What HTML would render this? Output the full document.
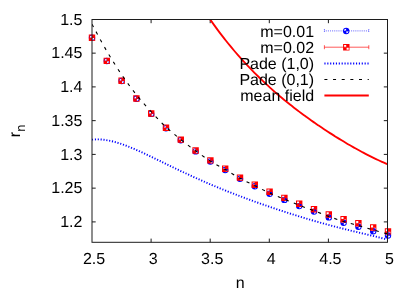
<!DOCTYPE html>
<html><head><meta charset="utf-8"><style>
html,body{margin:0;padding:0;background:#fff;}
svg{display:block;will-change:transform;}
text{font-family:"Liberation Sans",sans-serif;font-size:16px;fill:#000;text-rendering:geometricPrecision;}
</style></head><body>
<svg width="415" height="291" viewBox="0 0 415 291">
<rect width="415" height="291" fill="#fff"/>

<path d="M151.10 242.30 v-3.7 M151.10 19.50 v3.7 M210.20 242.30 v-3.7 M210.20 19.50 v3.7 M269.30 242.30 v-3.7 M269.30 19.50 v3.7 M328.40 242.30 v-3.7 M328.40 19.50 v3.7 M92.00 221.90 h3.7 M387.50 221.90 h-3.7 M92.00 188.15 h3.7 M387.50 188.15 h-3.7 M92.00 154.40 h3.7 M387.50 154.40 h-3.7 M92.00 120.65 h3.7 M387.50 120.65 h-3.7 M92.00 86.90 h3.7 M387.50 86.90 h-3.7 M92.00 53.15 h3.7 M387.50 53.15 h-3.7" stroke="#000" stroke-width="0.9" fill="none"/>
<text x="94.00" y="264" text-anchor="middle">2.5</text>
<text x="153.10" y="264" text-anchor="middle">3</text>
<text x="212.20" y="264" text-anchor="middle">3.5</text>
<text x="271.30" y="264" text-anchor="middle">4</text>
<text x="330.40" y="264" text-anchor="middle">4.5</text>
<text x="389.50" y="264" text-anchor="middle">5</text>
<text x="82.4" y="227.15" text-anchor="end">1.2</text>
<text x="82.4" y="193.40" text-anchor="end">1.25</text>
<text x="82.4" y="159.65" text-anchor="end">1.3</text>
<text x="82.4" y="125.90" text-anchor="end">1.35</text>
<text x="82.4" y="92.15" text-anchor="end">1.4</text>
<text x="82.4" y="58.40" text-anchor="end">1.45</text>
<text x="82.4" y="24.65" text-anchor="end">1.5</text>
<text x="240.2" y="288.4" text-anchor="middle">n</text>
<text transform="translate(20,137.2) rotate(-90)">r<tspan dy="5.2" font-size="12.8px">n</tspan></text>
<clipPath id="c"><rect x="92.00" y="19.50" width="295.50" height="222.80"/></clipPath>
<path transform="translate(92.00,37.80)" fill-rule="evenodd" fill="#0000ff" d="M-3.2 0 A3.2 3.2 0 1 0 3.2 0 A3.2 3.2 0 1 0 -3.2 0 Z M-0.1 -0.1 L-2.3 -0.1 A2.3 2.3 0 0 1 -0.1 -2.3 Z M0.2 0.2 L2.3 0.2 A2.3 2.3 0 0 1 0.2 2.3 Z"/>
<path transform="translate(106.80,60.95)" fill-rule="evenodd" fill="#0000ff" d="M-3.2 0 A3.2 3.2 0 1 0 3.2 0 A3.2 3.2 0 1 0 -3.2 0 Z M-0.1 -0.1 L-2.3 -0.1 A2.3 2.3 0 0 1 -0.1 -2.3 Z M0.2 0.2 L2.3 0.2 A2.3 2.3 0 0 1 0.2 2.3 Z"/>
<path transform="translate(121.60,80.94)" fill-rule="evenodd" fill="#0000ff" d="M-3.2 0 A3.2 3.2 0 1 0 3.2 0 A3.2 3.2 0 1 0 -3.2 0 Z M-0.1 -0.1 L-2.3 -0.1 A2.3 2.3 0 0 1 -0.1 -2.3 Z M0.2 0.2 L2.3 0.2 A2.3 2.3 0 0 1 0.2 2.3 Z"/>
<path transform="translate(136.40,98.75)" fill-rule="evenodd" fill="#0000ff" d="M-3.2 0 A3.2 3.2 0 1 0 3.2 0 A3.2 3.2 0 1 0 -3.2 0 Z M-0.1 -0.1 L-2.3 -0.1 A2.3 2.3 0 0 1 -0.1 -2.3 Z M0.2 0.2 L2.3 0.2 A2.3 2.3 0 0 1 0.2 2.3 Z"/>
<path transform="translate(151.20,113.88)" fill-rule="evenodd" fill="#0000ff" d="M-3.2 0 A3.2 3.2 0 1 0 3.2 0 A3.2 3.2 0 1 0 -3.2 0 Z M-0.1 -0.1 L-2.3 -0.1 A2.3 2.3 0 0 1 -0.1 -2.3 Z M0.2 0.2 L2.3 0.2 A2.3 2.3 0 0 1 0.2 2.3 Z"/>
<path transform="translate(166.00,128.24)" fill-rule="evenodd" fill="#0000ff" d="M-3.2 0 A3.2 3.2 0 1 0 3.2 0 A3.2 3.2 0 1 0 -3.2 0 Z M-0.1 -0.1 L-2.3 -0.1 A2.3 2.3 0 0 1 -0.1 -2.3 Z M0.2 0.2 L2.3 0.2 A2.3 2.3 0 0 1 0.2 2.3 Z"/>
<path transform="translate(180.80,140.31)" fill-rule="evenodd" fill="#0000ff" d="M-3.2 0 A3.2 3.2 0 1 0 3.2 0 A3.2 3.2 0 1 0 -3.2 0 Z M-0.1 -0.1 L-2.3 -0.1 A2.3 2.3 0 0 1 -0.1 -2.3 Z M0.2 0.2 L2.3 0.2 A2.3 2.3 0 0 1 0.2 2.3 Z"/>
<path transform="translate(195.60,151.39)" fill-rule="evenodd" fill="#0000ff" d="M-3.2 0 A3.2 3.2 0 1 0 3.2 0 A3.2 3.2 0 1 0 -3.2 0 Z M-0.1 -0.1 L-2.3 -0.1 A2.3 2.3 0 0 1 -0.1 -2.3 Z M0.2 0.2 L2.3 0.2 A2.3 2.3 0 0 1 0.2 2.3 Z"/>
<path transform="translate(210.40,161.49)" fill-rule="evenodd" fill="#0000ff" d="M-3.2 0 A3.2 3.2 0 1 0 3.2 0 A3.2 3.2 0 1 0 -3.2 0 Z M-0.1 -0.1 L-2.3 -0.1 A2.3 2.3 0 0 1 -0.1 -2.3 Z M0.2 0.2 L2.3 0.2 A2.3 2.3 0 0 1 0.2 2.3 Z"/>
<path transform="translate(225.20,170.00)" fill-rule="evenodd" fill="#0000ff" d="M-3.2 0 A3.2 3.2 0 1 0 3.2 0 A3.2 3.2 0 1 0 -3.2 0 Z M-0.1 -0.1 L-2.3 -0.1 A2.3 2.3 0 0 1 -0.1 -2.3 Z M0.2 0.2 L2.3 0.2 A2.3 2.3 0 0 1 0.2 2.3 Z"/>
<path transform="translate(240.00,178.70)" fill-rule="evenodd" fill="#0000ff" d="M-3.2 0 A3.2 3.2 0 1 0 3.2 0 A3.2 3.2 0 1 0 -3.2 0 Z M-0.1 -0.1 L-2.3 -0.1 A2.3 2.3 0 0 1 -0.1 -2.3 Z M0.2 0.2 L2.3 0.2 A2.3 2.3 0 0 1 0.2 2.3 Z"/>
<path transform="translate(254.80,186.30)" fill-rule="evenodd" fill="#0000ff" d="M-3.2 0 A3.2 3.2 0 1 0 3.2 0 A3.2 3.2 0 1 0 -3.2 0 Z M-0.1 -0.1 L-2.3 -0.1 A2.3 2.3 0 0 1 -0.1 -2.3 Z M0.2 0.2 L2.3 0.2 A2.3 2.3 0 0 1 0.2 2.3 Z"/>
<path transform="translate(269.60,193.70)" fill-rule="evenodd" fill="#0000ff" d="M-3.2 0 A3.2 3.2 0 1 0 3.2 0 A3.2 3.2 0 1 0 -3.2 0 Z M-0.1 -0.1 L-2.3 -0.1 A2.3 2.3 0 0 1 -0.1 -2.3 Z M0.2 0.2 L2.3 0.2 A2.3 2.3 0 0 1 0.2 2.3 Z"/>
<path transform="translate(284.40,199.90)" fill-rule="evenodd" fill="#0000ff" d="M-3.2 0 A3.2 3.2 0 1 0 3.2 0 A3.2 3.2 0 1 0 -3.2 0 Z M-0.1 -0.1 L-2.3 -0.1 A2.3 2.3 0 0 1 -0.1 -2.3 Z M0.2 0.2 L2.3 0.2 A2.3 2.3 0 0 1 0.2 2.3 Z"/>
<path transform="translate(299.20,206.10)" fill-rule="evenodd" fill="#0000ff" d="M-3.2 0 A3.2 3.2 0 1 0 3.2 0 A3.2 3.2 0 1 0 -3.2 0 Z M-0.1 -0.1 L-2.3 -0.1 A2.3 2.3 0 0 1 -0.1 -2.3 Z M0.2 0.2 L2.3 0.2 A2.3 2.3 0 0 1 0.2 2.3 Z"/>
<path transform="translate(314.00,211.60)" fill-rule="evenodd" fill="#0000ff" d="M-3.2 0 A3.2 3.2 0 1 0 3.2 0 A3.2 3.2 0 1 0 -3.2 0 Z M-0.1 -0.1 L-2.3 -0.1 A2.3 2.3 0 0 1 -0.1 -2.3 Z M0.2 0.2 L2.3 0.2 A2.3 2.3 0 0 1 0.2 2.3 Z"/>
<path transform="translate(328.80,217.40)" fill-rule="evenodd" fill="#0000ff" d="M-3.2 0 A3.2 3.2 0 1 0 3.2 0 A3.2 3.2 0 1 0 -3.2 0 Z M-0.1 -0.1 L-2.3 -0.1 A2.3 2.3 0 0 1 -0.1 -2.3 Z M0.2 0.2 L2.3 0.2 A2.3 2.3 0 0 1 0.2 2.3 Z"/>
<path transform="translate(343.60,222.80)" fill-rule="evenodd" fill="#0000ff" d="M-3.2 0 A3.2 3.2 0 1 0 3.2 0 A3.2 3.2 0 1 0 -3.2 0 Z M-0.1 -0.1 L-2.3 -0.1 A2.3 2.3 0 0 1 -0.1 -2.3 Z M0.2 0.2 L2.3 0.2 A2.3 2.3 0 0 1 0.2 2.3 Z"/>
<path transform="translate(358.40,226.80)" fill-rule="evenodd" fill="#0000ff" d="M-3.2 0 A3.2 3.2 0 1 0 3.2 0 A3.2 3.2 0 1 0 -3.2 0 Z M-0.1 -0.1 L-2.3 -0.1 A2.3 2.3 0 0 1 -0.1 -2.3 Z M0.2 0.2 L2.3 0.2 A2.3 2.3 0 0 1 0.2 2.3 Z"/>
<path transform="translate(373.20,231.20)" fill-rule="evenodd" fill="#0000ff" d="M-3.2 0 A3.2 3.2 0 1 0 3.2 0 A3.2 3.2 0 1 0 -3.2 0 Z M-0.1 -0.1 L-2.3 -0.1 A2.3 2.3 0 0 1 -0.1 -2.3 Z M0.2 0.2 L2.3 0.2 A2.3 2.3 0 0 1 0.2 2.3 Z"/>
<path transform="translate(388.00,235.50)" fill-rule="evenodd" fill="#0000ff" d="M-3.2 0 A3.2 3.2 0 1 0 3.2 0 A3.2 3.2 0 1 0 -3.2 0 Z M-0.1 -0.1 L-2.3 -0.1 A2.3 2.3 0 0 1 -0.1 -2.3 Z M0.2 0.2 L2.3 0.2 A2.3 2.3 0 0 1 0.2 2.3 Z"/>
<path transform="translate(92.00,37.80)" fill-rule="evenodd" fill="#ff0000" d="M-3.2 -3.2 H3.2 V3.2 H-3.2 Z M-2.2 -2.2 H-0.1 V-0.1 H-2.2 Z M0.3 0.3 H2.4 V2.4 H0.3 Z"/>
<path transform="translate(106.80,60.90)" fill-rule="evenodd" fill="#ff0000" d="M-3.2 -3.2 H3.2 V3.2 H-3.2 Z M-2.2 -2.2 H-0.1 V-0.1 H-2.2 Z M0.3 0.3 H2.4 V2.4 H0.3 Z"/>
<path transform="translate(121.60,80.80)" fill-rule="evenodd" fill="#ff0000" d="M-3.2 -3.2 H3.2 V3.2 H-3.2 Z M-2.2 -2.2 H-0.1 V-0.1 H-2.2 Z M0.3 0.3 H2.4 V2.4 H0.3 Z"/>
<path transform="translate(136.40,98.50)" fill-rule="evenodd" fill="#ff0000" d="M-3.2 -3.2 H3.2 V3.2 H-3.2 Z M-2.2 -2.2 H-0.1 V-0.1 H-2.2 Z M0.3 0.3 H2.4 V2.4 H0.3 Z"/>
<path transform="translate(151.20,113.50)" fill-rule="evenodd" fill="#ff0000" d="M-3.2 -3.2 H3.2 V3.2 H-3.2 Z M-2.2 -2.2 H-0.1 V-0.1 H-2.2 Z M0.3 0.3 H2.4 V2.4 H0.3 Z"/>
<path transform="translate(166.00,127.70)" fill-rule="evenodd" fill="#ff0000" d="M-3.2 -3.2 H3.2 V3.2 H-3.2 Z M-2.2 -2.2 H-0.1 V-0.1 H-2.2 Z M0.3 0.3 H2.4 V2.4 H0.3 Z"/>
<path transform="translate(180.80,139.60)" fill-rule="evenodd" fill="#ff0000" d="M-3.2 -3.2 H3.2 V3.2 H-3.2 Z M-2.2 -2.2 H-0.1 V-0.1 H-2.2 Z M0.3 0.3 H2.4 V2.4 H0.3 Z"/>
<path transform="translate(195.60,150.50)" fill-rule="evenodd" fill="#ff0000" d="M-3.2 -3.2 H3.2 V3.2 H-3.2 Z M-2.2 -2.2 H-0.1 V-0.1 H-2.2 Z M0.3 0.3 H2.4 V2.4 H0.3 Z"/>
<path transform="translate(210.40,160.40)" fill-rule="evenodd" fill="#ff0000" d="M-3.2 -3.2 H3.2 V3.2 H-3.2 Z M-2.2 -2.2 H-0.1 V-0.1 H-2.2 Z M0.3 0.3 H2.4 V2.4 H0.3 Z"/>
<path transform="translate(225.20,168.80)" fill-rule="evenodd" fill="#ff0000" d="M-3.2 -3.2 H3.2 V3.2 H-3.2 Z M-2.2 -2.2 H-0.1 V-0.1 H-2.2 Z M0.3 0.3 H2.4 V2.4 H0.3 Z"/>
<path transform="translate(240.00,177.60)" fill-rule="evenodd" fill="#ff0000" d="M-3.2 -3.2 H3.2 V3.2 H-3.2 Z M-2.2 -2.2 H-0.1 V-0.1 H-2.2 Z M0.3 0.3 H2.4 V2.4 H0.3 Z"/>
<path transform="translate(254.80,184.70)" fill-rule="evenodd" fill="#ff0000" d="M-3.2 -3.2 H3.2 V3.2 H-3.2 Z M-2.2 -2.2 H-0.1 V-0.1 H-2.2 Z M0.3 0.3 H2.4 V2.4 H0.3 Z"/>
<path transform="translate(269.60,191.70)" fill-rule="evenodd" fill="#ff0000" d="M-3.2 -3.2 H3.2 V3.2 H-3.2 Z M-2.2 -2.2 H-0.1 V-0.1 H-2.2 Z M0.3 0.3 H2.4 V2.4 H0.3 Z"/>
<path transform="translate(284.40,197.90)" fill-rule="evenodd" fill="#ff0000" d="M-3.2 -3.2 H3.2 V3.2 H-3.2 Z M-2.2 -2.2 H-0.1 V-0.1 H-2.2 Z M0.3 0.3 H2.4 V2.4 H0.3 Z"/>
<path transform="translate(299.20,203.70)" fill-rule="evenodd" fill="#ff0000" d="M-3.2 -3.2 H3.2 V3.2 H-3.2 Z M-2.2 -2.2 H-0.1 V-0.1 H-2.2 Z M0.3 0.3 H2.4 V2.4 H0.3 Z"/>
<path transform="translate(314.00,209.20)" fill-rule="evenodd" fill="#ff0000" d="M-3.2 -3.2 H3.2 V3.2 H-3.2 Z M-2.2 -2.2 H-0.1 V-0.1 H-2.2 Z M0.3 0.3 H2.4 V2.4 H0.3 Z"/>
<path transform="translate(328.80,214.50)" fill-rule="evenodd" fill="#ff0000" d="M-3.2 -3.2 H3.2 V3.2 H-3.2 Z M-2.2 -2.2 H-0.1 V-0.1 H-2.2 Z M0.3 0.3 H2.4 V2.4 H0.3 Z"/>
<path transform="translate(343.60,219.20)" fill-rule="evenodd" fill="#ff0000" d="M-3.2 -3.2 H3.2 V3.2 H-3.2 Z M-2.2 -2.2 H-0.1 V-0.1 H-2.2 Z M0.3 0.3 H2.4 V2.4 H0.3 Z"/>
<path transform="translate(358.40,223.30)" fill-rule="evenodd" fill="#ff0000" d="M-3.2 -3.2 H3.2 V3.2 H-3.2 Z M-2.2 -2.2 H-0.1 V-0.1 H-2.2 Z M0.3 0.3 H2.4 V2.4 H0.3 Z"/>
<path transform="translate(373.20,227.50)" fill-rule="evenodd" fill="#ff0000" d="M-3.2 -3.2 H3.2 V3.2 H-3.2 Z M-2.2 -2.2 H-0.1 V-0.1 H-2.2 Z M0.3 0.3 H2.4 V2.4 H0.3 Z"/>
<path transform="translate(388.00,231.40)" fill-rule="evenodd" fill="#ff0000" d="M-3.2 -3.2 H3.2 V3.2 H-3.2 Z M-2.2 -2.2 H-0.1 V-0.1 H-2.2 Z M0.3 0.3 H2.4 V2.4 H0.3 Z"/>
<g clip-path="url(#c)">
<path d="M92.00 139.66 C92.67 139.61 94.67 139.42 96.00 139.38 C97.33 139.35 98.67 139.37 100.00 139.44 C101.33 139.51 102.67 139.64 104.00 139.80 C105.33 139.96 106.67 140.17 108.00 140.42 C109.33 140.66 110.67 140.95 112.00 141.27 C113.33 141.58 114.67 141.94 116.00 142.32 C117.33 142.70 118.67 143.11 120.00 143.54 C121.33 143.97 122.67 144.44 124.00 144.92 C125.33 145.40 126.67 145.90 128.00 146.42 C129.33 146.94 130.67 147.48 132.00 148.03 C133.33 148.58 134.67 149.15 136.00 149.73 C137.33 150.31 138.67 150.90 140.00 151.50 C141.33 152.10 142.67 152.71 144.00 153.33 C145.33 153.95 146.67 154.58 148.00 155.21 C149.33 155.84 150.67 156.47 152.00 157.11 C153.33 157.75 154.67 158.40 156.00 159.04 C157.33 159.69 158.67 160.34 160.00 160.98 C161.33 161.63 162.67 162.28 164.00 162.93 C165.33 163.58 166.67 164.23 168.00 164.88 C169.33 165.52 170.67 166.17 172.00 166.81 C173.33 167.46 174.67 168.10 176.00 168.74 C177.33 169.38 178.67 170.01 180.00 170.65 C181.33 171.28 182.67 171.91 184.00 172.53 C185.33 173.16 186.67 173.78 188.00 174.40 C189.33 175.01 190.67 175.63 192.00 176.24 C193.33 176.85 194.67 177.45 196.00 178.05 C197.33 178.65 198.67 179.25 200.00 179.84 C201.33 180.43 202.67 181.01 204.00 181.59 C205.33 182.17 206.67 182.75 208.00 183.32 C209.33 183.89 210.67 184.46 212.00 185.02 C213.33 185.58 214.67 186.14 216.00 186.70 C217.33 187.25 218.67 187.80 220.00 188.34 C221.33 188.88 222.67 189.42 224.00 189.96 C225.33 190.49 226.67 191.03 228.00 191.55 C229.33 192.08 230.67 192.60 232.00 193.12 C233.33 193.64 234.67 194.15 236.00 194.66 C237.33 195.17 238.67 195.68 240.00 196.18 C241.33 196.69 242.67 197.18 244.00 197.68 C245.33 198.18 246.67 198.67 248.00 199.16 C249.33 199.65 250.67 200.13 252.00 200.61 C253.33 201.09 254.67 201.57 256.00 202.05 C257.33 202.52 258.67 203.00 260.00 203.47 C261.33 203.93 262.67 204.40 264.00 204.86 C265.33 205.33 266.67 205.79 268.00 206.24 C269.33 206.70 270.67 207.15 272.00 207.61 C273.33 208.06 274.67 208.51 276.00 208.95 C277.33 209.40 278.67 209.84 280.00 210.28 C281.33 210.72 282.67 211.15 284.00 211.59 C285.33 212.02 286.67 212.45 288.00 212.88 C289.33 213.31 290.67 213.73 292.00 214.15 C293.33 214.57 294.67 214.99 296.00 215.41 C297.33 215.82 298.67 216.24 300.00 216.64 C301.33 217.05 302.67 217.46 304.00 217.86 C305.33 218.26 306.67 218.66 308.00 219.06 C309.33 219.46 310.67 219.85 312.00 220.24 C313.33 220.63 314.67 221.01 316.00 221.40 C317.33 221.78 318.67 222.16 320.00 222.53 C321.33 222.91 322.67 223.28 324.00 223.65 C325.33 224.02 326.67 224.38 328.00 224.74 C329.33 225.11 330.67 225.46 332.00 225.82 C333.33 226.17 334.67 226.52 336.00 226.87 C337.33 227.22 338.67 227.56 340.00 227.91 C341.33 228.25 342.67 228.59 344.00 228.92 C345.33 229.26 346.67 229.59 348.00 229.92 C349.33 230.25 350.67 230.58 352.00 230.90 C353.33 231.23 354.67 231.55 356.00 231.87 C357.33 232.20 358.67 232.51 360.00 232.83 C361.33 233.15 362.67 233.47 364.00 233.79 C365.33 234.11 366.67 234.42 368.00 234.74 C369.33 235.06 370.67 235.38 372.00 235.70 C373.33 236.02 374.67 236.34 376.00 236.67 C377.33 236.99 378.67 237.32 380.00 237.65 C381.33 237.98 382.67 238.32 384.00 238.66 C385.33 239.00 387.33 239.53 388.00 239.71" stroke="#0000ff" stroke-width="1.9" stroke-dasharray="1.15 1.72" fill="none"/>
<path d="M92.00 24.20 C94.47 28.69 101.87 42.73 106.80 51.13 C111.73 59.53 116.67 67.32 121.60 74.59 C126.53 81.86 131.47 88.57 136.40 94.76 C141.33 100.96 146.27 106.37 151.20 111.75 C156.13 117.13 161.07 122.41 166.00 127.05 C170.93 131.68 175.87 135.59 180.80 139.56 C185.73 143.53 190.67 147.29 195.60 150.88 C200.53 154.47 205.47 157.99 210.40 161.11 C215.33 164.22 220.27 166.71 225.20 169.58 C230.13 172.45 235.07 175.62 240.00 178.31 C244.93 181.01 249.87 183.29 254.80 185.74 C259.73 188.19 264.67 190.76 269.60 193.00 C274.53 195.24 279.47 197.16 284.40 199.20 C289.33 201.24 294.27 203.33 299.20 205.26 C304.13 207.19 309.07 208.91 314.00 210.76 C318.93 212.61 323.87 214.59 328.80 216.38 C333.73 218.18 338.67 220.01 343.60 221.54 C348.53 223.07 353.47 224.18 358.40 225.57 C363.33 226.97 368.27 228.49 373.20 229.91 C378.13 231.32 385.53 233.37 388.00 234.06" stroke="#000" stroke-width="1.1" stroke-dasharray="3.2 5.45" fill="none"/>
<path d="M206.00 13.39 C206.67 14.36 208.67 17.29 210.00 19.21 C211.33 21.12 212.67 23.02 214.00 24.88 C215.33 26.73 216.67 28.55 218.00 30.35 C219.33 32.14 220.67 33.90 222.00 35.64 C223.33 37.37 224.67 39.07 226.00 40.75 C227.33 42.42 228.67 44.07 230.00 45.69 C231.33 47.31 232.67 48.91 234.00 50.48 C235.33 52.05 236.67 53.59 238.00 55.11 C239.33 56.63 240.67 58.13 242.00 59.60 C243.33 61.07 244.67 62.52 246.00 63.95 C247.33 65.38 248.67 66.79 250.00 68.18 C251.33 69.57 252.67 70.94 254.00 72.28 C255.33 73.63 256.67 74.96 258.00 76.27 C259.33 77.58 260.67 78.88 262.00 80.15 C263.33 81.43 264.67 82.68 266.00 83.93 C267.33 85.17 268.67 86.39 270.00 87.60 C271.33 88.82 272.67 90.01 274.00 91.19 C275.33 92.37 276.67 93.54 278.00 94.69 C279.33 95.83 280.67 96.96 282.00 98.07 C283.33 99.18 284.67 100.27 286.00 101.35 C287.33 102.43 288.67 103.50 290.00 104.55 C291.33 105.61 292.67 106.65 294.00 107.68 C295.33 108.72 296.67 109.74 298.00 110.75 C299.33 111.76 300.67 112.76 302.00 113.75 C303.33 114.74 304.67 115.71 306.00 116.68 C307.33 117.65 308.67 118.61 310.00 119.56 C311.33 120.51 312.67 121.45 314.00 122.38 C315.33 123.31 316.67 124.23 318.00 125.14 C319.33 126.05 320.67 126.95 322.00 127.84 C323.33 128.74 324.67 129.62 326.00 130.50 C327.33 131.37 328.67 132.24 330.00 133.10 C331.33 133.96 332.67 134.80 334.00 135.64 C335.33 136.48 336.67 137.32 338.00 138.14 C339.33 138.96 340.67 139.78 342.00 140.58 C343.33 141.39 344.67 142.18 346.00 142.97 C347.33 143.76 348.67 144.54 350.00 145.30 C351.33 146.07 352.67 146.83 354.00 147.58 C355.33 148.33 356.67 149.08 358.00 149.81 C359.33 150.54 360.67 151.26 362.00 151.97 C363.33 152.68 364.67 153.38 366.00 154.08 C367.33 154.77 368.67 155.45 370.00 156.12 C371.33 156.79 372.67 157.45 374.00 158.09 C375.33 158.74 376.67 159.38 378.00 160.00 C379.33 160.62 380.67 161.23 382.00 161.83 C383.33 162.43 385.00 163.16 386.00 163.59 C387.00 164.03 387.67 164.30 388.00 164.44" stroke="#ff0000" stroke-width="1.85" fill="none"/>
</g>
<text x="314.1" y="36.60" text-anchor="end">m=0.01</text>
<text x="314.1" y="52.60" text-anchor="end">m=0.02</text>
<text x="314.1" y="68.60" text-anchor="end">Pade (1,0)</text>
<text x="314.1" y="84.60" text-anchor="end">Pade (0,1)</text>
<text x="314.1" y="100.60" text-anchor="end">mean field</text>
<path d="M324.4 30.9 H368.8 M324.4 29 v3.8 M368.8 29 v3.8" stroke="#0000ff" stroke-width="0.7" stroke-dasharray="0.8 1.1" fill="none"/>
<path transform="translate(346.20,30.95)" fill-rule="evenodd" fill="#0000ff" d="M-3.2 0 A3.2 3.2 0 1 0 3.2 0 A3.2 3.2 0 1 0 -3.2 0 Z M-0.1 -0.1 L-2.3 -0.1 A2.3 2.3 0 0 1 -0.1 -2.3 Z M0.2 0.2 L2.3 0.2 A2.3 2.3 0 0 1 0.2 2.3 Z"/>
<path d="M324.4 47.2 H368.8 M324.4 45.2 v4 M368.8 45.2 v4" stroke="#ff0000" stroke-width="0.65" fill="none"/>
<path transform="translate(346.30,47.25)" fill-rule="evenodd" fill="#ff0000" d="M-3.2 -3.2 H3.2 V3.2 H-3.2 Z M-2.2 -2.2 H-0.1 V-0.1 H-2.2 Z M0.3 0.3 H2.4 V2.4 H0.3 Z"/>
<path d="M324.4 63.45 H368.8" stroke="#0000ff" stroke-width="1.9" stroke-dasharray="1.15 1.72" fill="none"/>
<path d="M324.4 79.55 H368.8" stroke="#000" stroke-width="1.05" stroke-dasharray="3 5.65" fill="none"/>
<path d="M324.4 95.6 H368.8" stroke="#ff0000" stroke-width="2" fill="none"/>
<rect x="92.00" y="19.50" width="295.50" height="222.80" fill="none" stroke="#1c1c1c" stroke-width="1"/>
</svg></body></html>
